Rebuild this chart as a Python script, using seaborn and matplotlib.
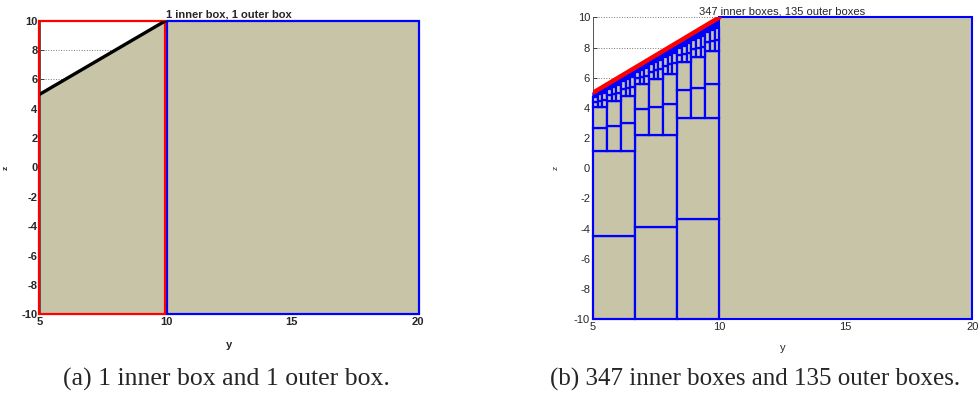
import matplotlib
matplotlib.use("Agg")
import matplotlib.pyplot as plt
import matplotlib.transforms as mtransforms
import numpy as np
import pandas as pd
import seaborn as sns
from matplotlib.patches import Polygon, Rectangle

# constraint boundary z = y between y=5 and y=10
line_y = [5, 10]
line_z = [5, 10]

# domain
inner_y = [5, 10]
outer_y = [10, 20]
z_range = [-10, 10]

# level 1 columns of (b): edges and stacked split heights (floor, mid, top)
lvl1_edges = [5.0, 6.667, 8.333, 10.0]
lvl1_splits = [[-10, -4.5, 1.13], [-10, -3.9, 2.2], [-10, -3.37, 3.3]]

# level 2 sub-columns
lvl2_edges = [5.0, 5.556, 6.111, 6.667, 7.222, 7.778, 8.333, 8.889, 9.444, 10.0]
lvl2_mid = [2.64, 2.79, 2.97, 3.92, 4.07, 4.23, 5.18, 5.33, 5.56]
lvl2_top = [4.03, 4.45, 4.78, 5.56, 5.93, 6.24, 7.02, 7.35, 7.75]

# level 3 sub-sub-columns (estimated)
lvl3_mid = [4.39, 4.46, 4.52, 4.86, 4.93, 5.00, 5.27, 5.34, 5.41,
            5.97, 6.04, 6.10, 6.41, 6.48, 6.55, 6.81, 6.88, 6.95,
            7.51, 7.57, 7.64, 7.92, 7.99, 8.06, 8.38, 8.44, 8.51]
lvl3_top = [4.75, 4.89, 5.02, 5.27, 5.41, 5.54, 5.76, 5.90, 6.04,
            6.38, 6.52, 6.65, 6.89, 7.02, 7.16, 7.38, 7.51, 7.65,
            7.99, 8.13, 8.27, 8.49, 8.63, 8.76, 9.00, 9.14, 9.28]

TAN = "#C8C4A8"
BLUE = "#0000FF"
RED = "#FF0000"

sns.set_style("white")
plt.rcParams["font.family"] = ["Liberation Sans", "DejaVu Sans"]
plt.rcParams["axes.unicode_minus"] = False

fig = plt.figure(figsize=(9.8, 3.95), dpi=100)
ax_a = fig.add_axes([0.041, 0.204, 0.385, 0.744])
ax_b = fig.add_axes([0.605, 0.192, 0.387, 0.764])


def style_axes(ax, bold):
    weight = "bold" if bold else "normal"
    ax.set_xlim(5, 20)
    ax.set_ylim(-10, 10)
    ax.set_xticks([5, 10, 15, 20])
    ax.set_yticks(np.arange(-10, 11, 2))
    ax.tick_params(direction="in", length=3, width=0.6, labelsize=8, pad=2,
                   left=True, bottom=True)
    for lab in ax.get_xticklabels() + ax.get_yticklabels():
        lab.set_fontweight(weight)
    ax.grid(axis="y", linestyle=":", color="#777777", linewidth=0.7)
    ax.set_axisbelow(True)
    for s in ["top", "right"]:
        ax.spines[s].set_visible(False)
    for s in ["left", "bottom"]:
        ax.spines[s].set_color("#555555")
        ax.spines[s].set_linewidth(0.7)
    ax.set_xlabel("y", fontsize=8, fontweight=weight)
    ax.set_ylabel("z", fontsize=6, fontweight=weight)


# (a)
style_axes(ax_a, True)
ax_a.xaxis.set_label_coords(0.5, -0.088)
ax_a.yaxis.set_label_coords(-0.08, 0.5)
ax_a.add_patch(Polygon([(line_y[0], z_range[0]), (line_y[0], line_z[0]),
                        (line_y[1], line_z[1]), (line_y[1], z_range[0])],
                       closed=True, facecolor=TAN, edgecolor="none", zorder=2))
shift_r = mtransforms.offset_copy(ax_a.transData, fig=fig, x=1.2, units="dots")
shift_l = mtransforms.offset_copy(ax_a.transData, fig=fig, x=-1.2, units="dots")
ax_a.add_patch(Rectangle((outer_y[0], z_range[0]), outer_y[1] - outer_y[0],
                         z_range[1] - z_range[0], facecolor=TAN,
                         edgecolor=BLUE, linewidth=1.6, zorder=3,
                         transform=shift_r, clip_on=False))
ax_a.add_patch(Rectangle((inner_y[0], z_range[0]), inner_y[1] - inner_y[0],
                         z_range[1] - z_range[0], facecolor="none",
                         edgecolor=RED, linewidth=1.6, zorder=3,
                         transform=shift_l, clip_on=False))
sns.lineplot(x=line_y, y=line_z, ax=ax_a, color="black", linewidth=2.4, zorder=4)
ax_a.set_title("1 inner box, 1 outer box", fontsize=8, fontweight="bold", pad=2)

# (b)
style_axes(ax_b, False)
ax_b.xaxis.set_label_coords(0.5, -0.08)
ax_b.yaxis.set_label_coords(-0.089, 0.5)
ax_b.add_patch(Rectangle((outer_y[0], z_range[0]), outer_y[1] - outer_y[0],
                         z_range[1] - z_range[0], facecolor=TAN,
                         edgecolor=BLUE, linewidth=1.5, zorder=3, clip_on=False))

boxes = []
for i, (f, m, t) in enumerate(lvl1_splits):
    boxes.append((lvl1_edges[i], lvl1_edges[i + 1], f, m))
    boxes.append((lvl1_edges[i], lvl1_edges[i + 1], m, t))
for j in range(9):
    f = lvl1_splits[j // 3][2]
    boxes.append((lvl2_edges[j], lvl2_edges[j + 1], f, lvl2_mid[j]))
    boxes.append((lvl2_edges[j], lvl2_edges[j + 1], lvl2_mid[j], lvl2_top[j]))
lvl3_edges = np.linspace(5, 10, 28)
for k in range(27):
    f = lvl2_top[k // 3]
    boxes.append((lvl3_edges[k], lvl3_edges[k + 1], f, lvl3_mid[k]))
    boxes.append((lvl3_edges[k], lvl3_edges[k + 1], lvl3_mid[k], lvl3_top[k]))
boxes = pd.DataFrame(boxes, columns=["y0", "y1", "z0", "z1"])
for r in boxes.itertuples():
    ax_b.add_patch(Rectangle((r.y0, r.z0), r.y1 - r.y0, r.z1 - r.z0,
                             facecolor=TAN, edgecolor=BLUE, linewidth=1.6,
                             zorder=3, clip_on=False))

# band of the finest boxes between level 3 and the boundary
band = [(line_y[0], line_z[0]), (line_y[1], line_z[1])]
for k in range(26, -1, -1):
    band.append((lvl3_edges[k + 1], lvl3_top[k]))
    band.append((lvl3_edges[k], lvl3_top[k]))
ax_b.add_patch(Polygon(band, closed=True, facecolor=BLUE, edgecolor=BLUE,
                       linewidth=0.8, zorder=4, clip_on=False))
sns.lineplot(x=line_y, y=line_z, ax=ax_b, color=RED, linewidth=3.2, zorder=5)
ax_b.set_title("347 inner boxes, 135 outer boxes", fontsize=8, pad=2)

fig.text(0.231, 0.04, "(a) 1 inner box and 1 outer box.", ha="center", va="center",
         fontsize=18.5, family=["Liberation Serif", "DejaVu Serif"])
fig.text(0.561, 0.04, "(b) 347 inner boxes and 135 outer boxes.", ha="left", va="center",
         fontsize=18, family=["Liberation Serif", "DejaVu Serif"])

fig.savefig("out.png", dpi=100)
